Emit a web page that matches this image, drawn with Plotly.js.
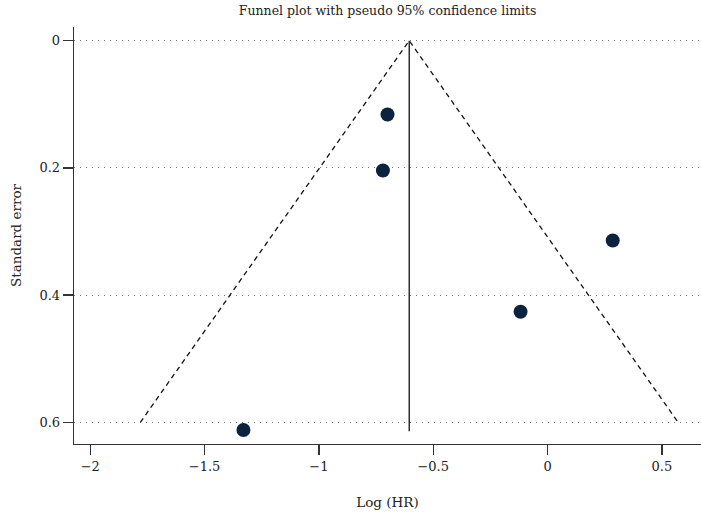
<!DOCTYPE html>
<html>
<head>
<meta charset="utf-8">
<script src="https://cdn.plot.ly/plotly-3.0.1.min.js"></script>
<style>html,body{margin:0;padding:0;background:#fff;}#chart{width:701px;height:514px;}</style>
</head>
<body>
<div id="chart"></div>
<script>
// Study estimates
const logHR = [-0.70, -0.72, 0.285, -0.118, -1.33];
const stdErr = [0.116, 0.204, 0.314, 0.426, 0.612];
// Pooled estimate and funnel limits
const pooled = -0.605;
const funnelMaxSE = 0.6;
const lineMaxSE = 0.614;
const xTicks = [-2, -1.5, -1, -0.5, 0, 0.5];
const xTickText = ['\u22122', '\u22121.5', '\u22121', '\u22120.5', '0', '0.5'];
const yTicks = [0, 0.2, 0.4, 0.6];
const yTickText = ['0', '0.2', '0.4', '0.6'];

const funnelX = [pooled - 1.96 * funnelMaxSE, pooled, pooled + 1.96 * funnelMaxSE];
const funnelY = [funnelMaxSE, 0, funnelMaxSE];

const fam = '"DejaVu Serif", "Liberation Serif", serif';
const txt = '#222';

const traces = [
  {x: funnelX, y: funnelY, mode: 'lines', type: 'scatter',
   line: {color: '#111', width: 1.3, dash: '5px,4px'}, hoverinfo: 'skip'},
  {x: [pooled, pooled], y: [0, lineMaxSE], mode: 'lines', type: 'scatter',
   line: {color: '#111', width: 1.3}, hoverinfo: 'skip'},
  {x: logHR, y: stdErr, mode: 'markers', type: 'scatter',
   marker: {color: '#0b2341', size: 14}}
];

const layout = {
  width: 701, height: 514,
  margin: {l: 74, r: 0, t: 27, b: 70},
  paper_bgcolor: '#fff', plot_bgcolor: '#fff',
  showlegend: false,
  font: {family: fam, color: txt, size: 13},
  title: {text: 'Funnel plot with pseudo 95% confidence limits', font: {family: fam, size: 12.5, color: txt},
          x: 0.553, xanchor: 'center', y: 0.988, yanchor: 'top'},
  xaxis: {
    range: [-2.071, 0.671], tickvals: xTicks, ticktext: xTickText,
    showgrid: false, zeroline: false,
    showline: true, linecolor: '#333', linewidth: 1.3,
    ticks: 'outside', ticklen: 10, tickwidth: 1.3, tickcolor: '#333',
    tickfont: {family: fam, size: 13, color: txt},
    title: {text: 'Log (HR)', font: {family: fam, size: 13.5, color: txt}, standoff: 24}
  },
  yaxis: {
    range: [0.634, -0.0215], tickvals: yTicks, ticktext: yTickText,
    showgrid: true, gridcolor: '#777', gridwidth: 1, griddash: '1px,5px',
    zeroline: false,
    showline: true, linecolor: '#333', linewidth: 1.3,
    ticks: 'outside', ticklen: 10, tickwidth: 1.3, tickcolor: '#333',
    tickfont: {family: fam, size: 13, color: txt},
    title: {text: 'Standard error', font: {family: fam, size: 13.5, color: txt}, standoff: 14}
  }
};

Plotly.newPlot('chart', traces, layout, {displayModeBar: false, staticPlot: true});
</script>
</body>
</html>
